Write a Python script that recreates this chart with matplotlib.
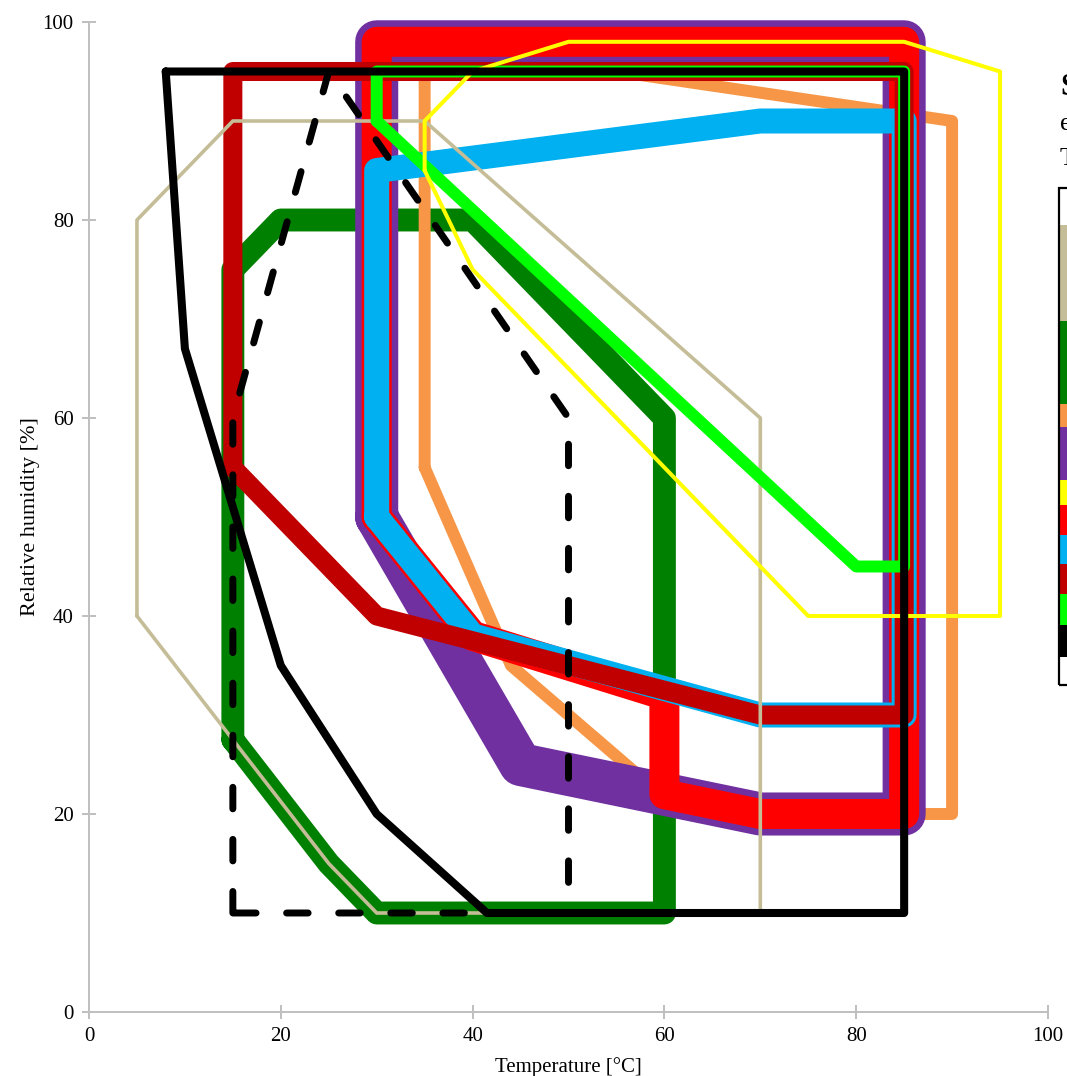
import matplotlib
matplotlib.use("Agg")
import matplotlib.pyplot as plt
from matplotlib.patches import Rectangle

plt.rcParams['font.family'] = ['Liberation Serif', 'DejaVu Serif']

# envelope polygons (temperature, relative humidity), closed
tan_x = [5, 5, 15, 35, 70, 70, 30, 25, 5]
tan_y = [40, 80, 90, 90, 60, 10, 10, 15, 40]

green_x = [15, 15, 20, 40, 60, 60, 30, 25, 15]
green_y = [27.5, 75, 80, 80, 60, 10, 10, 15, 27.5]

orange_x = [35, 35, 55, 90, 90, 62, 44, 35]
orange_y = [55, 95, 95, 90, 20, 20, 35, 55]

purple_x = [30, 30, 85, 85, 70, 45, 30]
purple_y = [50, 98, 98, 20, 20, 25, 50]

yellow_x = [35, 35, 40, 50, 85, 95, 95, 75, 40, 35]
yellow_y = [85, 90, 95, 98, 98, 95, 40, 40, 75, 85]

red_x = [30, 30, 85, 85, 70, 60, 60, 40, 30]
red_y = [50, 98, 98, 20, 20, 22, 32, 38, 50]

blue_x = [30, 30, 70, 85, 85, 70, 40, 30]
blue_y = [50, 85, 90, 90, 30, 30, 38, 50]

darkred_x = [15, 15, 85, 85, 70, 30, 15]
darkred_y = [55, 95, 95, 30, 30, 40, 55]

lime_x = [30, 30, 85, 85, 80, 30]
lime_y = [90, 95, 95, 45, 45, 90]

black_x = [8, 85, 85, 41.5, 30, 20, 10, 8]
black_y = [95, 95, 10, 10, 20, 35, 67, 95]

dashed_x = [15, 15, 25, 50, 50, 15]
dashed_y = [10, 60, 95, 60, 10, 10]

ticks = [0, 20, 40, 60, 80, 100]

fig = plt.figure(figsize=(10.67, 10.76), dpi=100)
ax = fig.add_axes([89 / 1067, 64 / 1076, 959 / 1067, 990 / 1076])

# drawing order as it appears in the picture (bottom to top)
series = [
    (green_x, green_y, '#008000', 16.5),
    (orange_x, orange_y, '#f79646', 8.6),
    (purple_x, purple_y, '#7030a0', 31),
    (red_x, red_y, '#ff0000', 21.6),
    (blue_x, blue_y, '#00b0f0', 18),
    (darkred_x, darkred_y, '#c00000', 13.7),
    (tan_x, tan_y, '#c4bd97', 2.6),
    (lime_x, lime_y, '#00ff00', 8.6),
    (yellow_x, yellow_y, '#ffff00', 2.9),
    (black_x, black_y, '#000000', 5.8),
]
for xs, ys, c, lw in series:
    ax.plot(xs, ys, color=c, lw=lw, solid_joinstyle='round',
            solid_capstyle='round', clip_on=False)

ax.plot(dashed_x, dashed_y, color='black', lw=5, dashes=(3.1, 4.4),
        dash_capstyle='round', dash_joinstyle='round', clip_on=False)

ax.set_xlim(0, 100)
ax.set_ylim(0, 100)
ax.set_xticks(ticks)
ax.set_yticks(ticks)
for s in ['top', 'right']:
    ax.spines[s].set_visible(False)
for s in ['left', 'bottom']:
    ax.spines[s].set_color('#bfbfbf')
    ax.spines[s].set_linewidth(1.4)
ax.tick_params(direction='inout', length=10, width=1.4, color='#bfbfbf',
               labelsize=15, pad=6)
ax.set_xlabel('Temperature [°C]', fontsize=15, labelpad=8)
ax.set_ylabel('Relative humidity [%]', fontsize=16, labelpad=2)

# side panel, cut off by the right edge
fig.text(1060 / 1067, 1 - 95 / 1076, 'S', fontsize=22, fontweight='bold')
fig.text(1060 / 1067, 1 - 130 / 1076, 'e', fontsize=19)
fig.text(1060 / 1067, 1 - 165 / 1076, 'T', fontsize=19)

legend_colors = ['white', '#c4bd97', '#008000', '#f79646', '#7030a0', '#ffff00',
                 '#ff0000', '#00b0f0', '#c00000', '#00ff00', '#000000', 'white']
legend_edges = [188, 225, 321, 404, 427, 480, 505, 535, 564, 594, 625, 657, 685]
for i, c in enumerate(legend_colors):
    top, bot = legend_edges[i], legend_edges[i + 1]
    fig.add_artist(Rectangle((1059 / 1067, 1 - bot / 1076), 20 / 1067,
                             (bot - top) / 1076, transform=fig.transFigure,
                             facecolor=c, edgecolor='none'))
fig.add_artist(Rectangle((1059 / 1067, 1 - 685 / 1076), 20 / 1067,
                         (685 - 188) / 1076, transform=fig.transFigure,
                         facecolor='none', edgecolor='black', lw=1.6))

fig.savefig('out.png', dpi=100)
